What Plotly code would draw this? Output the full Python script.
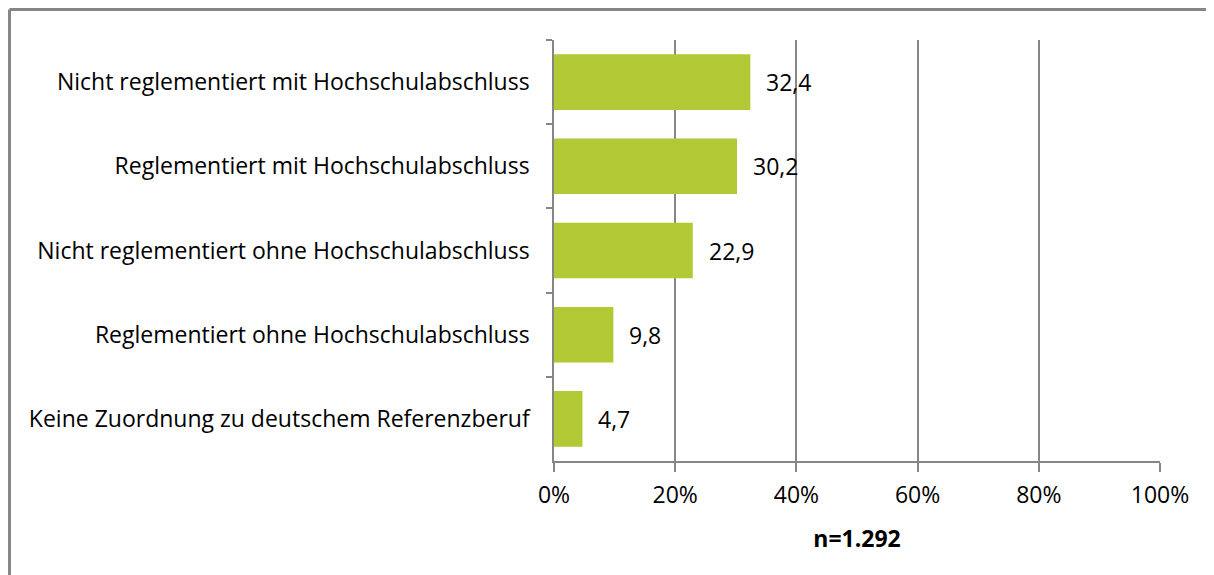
import plotly.graph_objects as go

categories = [
    "Nicht reglementiert mit Hochschulabschluss",
    "Reglementiert mit Hochschulabschluss",
    "Nicht reglementiert ohne Hochschulabschluss",
    "Reglementiert ohne Hochschulabschluss",
    "Keine Zuordnung zu deutschem Referenzberuf",
]
values = [32.4, 30.2, 22.9, 9.8, 4.7]
value_labels = ["32,4", "30,2", "22,9", "9,8", "4,7"]
x_ticks = [0, 20, 40, 60, 80, 100]
x_tick_labels = ["0%", "20%", "40%", "60%", "80%", "100%"]
sample_note = "n=1.292"

W, H = 1214, 575
OFF = 8  # page body margin
L = 554 - OFF
T = 40 - OFF
R = W - (1160 - OFF)
B = H - (461 - OFF)
pw, ph = W - L - R, H - T - B

FONT = "'Open Sans', sans-serif"
FS = 23
GRAY = "#868686"

fig = go.Figure()
fig.add_trace(go.Bar(
    y=categories, x=values, orientation="h",
    marker=dict(color="#b2c835", line=dict(width=0)),
    width=0.66, hoverinfo="skip",
))

annotations = []
for c, v, t in zip(categories, values, value_labels):
    annotations.append(dict(x=v, y=c, xref="x", yref="y", text=t, showarrow=False,
                            xanchor="left", xshift=14,
                            font=dict(family=FONT, size=FS, color="#000000")))

bx = 9.5 - OFF
by = 9.5 - OFF
shapes = [
    dict(type="line", xref="paper", yref="paper",
         x0=(bx - L) / pw, x1=(W + 5 - L) / pw,
         y0=1 + (T - by) / ph, y1=1 + (T - by) / ph,
         line=dict(color=GRAY, width=3)),
    dict(type="line", xref="paper", yref="paper",
         x0=(bx - L) / pw, x1=(bx - L) / pw,
         y0=1 + (T - by) / ph, y1=-(B + 5) / ph,
         line=dict(color=GRAY, width=3)),
]

fig.update_layout(
    width=W, height=H,
    margin=dict(l=L, r=R, t=T, b=B, pad=0),
    paper_bgcolor="white", plot_bgcolor="white",
    showlegend=False,
    font=dict(family=FONT, size=FS, color="#000000"),
    annotations=annotations, shapes=shapes,
    xaxis=dict(
        range=[0, 100], tickvals=x_ticks, ticktext=x_tick_labels,
        showgrid=True, gridcolor=GRAY, gridwidth=1.5,
        showline=True, linecolor=GRAY, linewidth=1.5,
        ticks="outside", ticklen=9, tickcolor=GRAY, tickwidth=1.5,
        zeroline=False, fixedrange=True,
        ticklabelstandoff=4,
        tickfont=dict(family=FONT, size=FS),
        title=dict(text="<b>" + sample_note + "</b>", standoff=22,
                   font=dict(family=FONT, size=FS)),
    ),
    yaxis=dict(
        autorange="reversed",
        showline=True, linecolor=GRAY, linewidth=1.5,
        ticks="outside", ticklen=6, tickcolor=GRAY, tickwidth=1.5,
        tickson="boundaries", showgrid=False, fixedrange=True,
        ticklabelstandoff=18,
        tickfont=dict(family=FONT, size=FS),
    ),
)

fig.write_html("out.html")
